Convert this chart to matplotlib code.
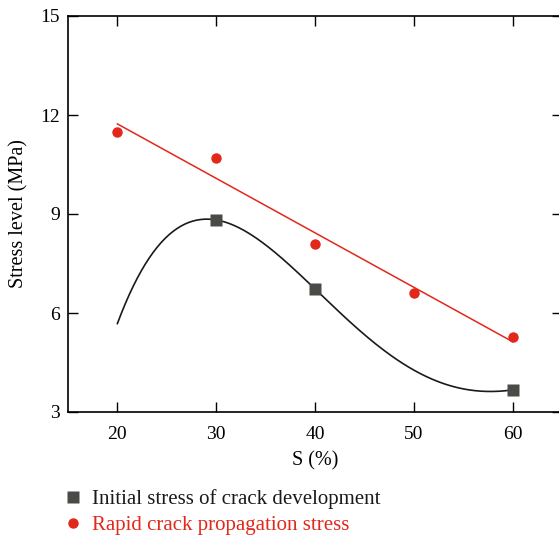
import numpy as np
import matplotlib.pyplot as plt

plt.rcParams['font.family'] = ['Liberation Serif', 'DejaVu Serif']

# data
s_init = [30, 40, 60]
init_stress = [8.82, 6.73, 3.67]
# points the smooth curve passes through (markers only at 30, 40, 60)
s_curve = [20, 30, 40, 50, 60]
curve_stress = [5.68, 8.82, 6.73, 4.27, 3.67]

s_rapid = [20, 30, 40, 50, 60]
rapid_stress = [11.48, 10.7, 8.08, 6.62, 5.27]

dark = '#4b4a47'
red = '#e2271b'

fig = plt.figure(figsize=(5.59, 5.39), dpi=100)
ax = fig.add_axes([68/559, 1 - 412/539, (562 - 68)/559, (412 - 16)/539])

# smooth curve through the initial-stress points
c = np.polyfit(s_curve, curve_stress, 4)
xs = np.linspace(20, 60, 200)
ax.plot(xs, np.polyval(c, xs), color='#1a1a1a', lw=1.2, zorder=2)
ax.plot(s_init, init_stress, 's', color=dark, ms=8, mec='none', zorder=3,
        label='Initial stress of crack development')

# linear fit of the rapid propagation stress
k, b = np.polyfit(s_rapid, rapid_stress, 1)
xl = np.array([20, 60])
ax.plot(xl, k*xl + b, color=red, lw=1.1, zorder=2)
ax.plot(s_rapid, rapid_stress, 'o', color=red, ms=7.5, mec='none', zorder=3,
        label='Rapid crack propagation stress')

ax.set_xlim(15, 65)
ax.set_ylim(3, 15)
ax.set_xticks([20, 30, 40, 50, 60])
ax.set_yticks([3, 6, 9, 12, 15])
ax.tick_params(direction='in', top=True, right=True, length=7, width=1,
               labelsize=14, pad=6)
ax.tick_params(axis='x', pad=10)
for sp in ax.spines.values():
    sp.set_linewidth(1.2)

ax.set_xlabel('S (%)', fontsize=14.5, labelpad=6)
ax.set_ylabel('Stress level (MPa)', fontsize=14.5, labelpad=8)

leg = fig.legend(loc='upper left', bbox_to_anchor=(54/559, 1 - 481/539),
                 frameon=False, fontsize=15, handlelength=1, handletextpad=0.4,
                 labelspacing=0.3, borderaxespad=0)
for txt, col in zip(leg.get_texts(), ['#1a1a1a', red]):
    txt.set_color(col)

plt.savefig('out.png', dpi=100)
